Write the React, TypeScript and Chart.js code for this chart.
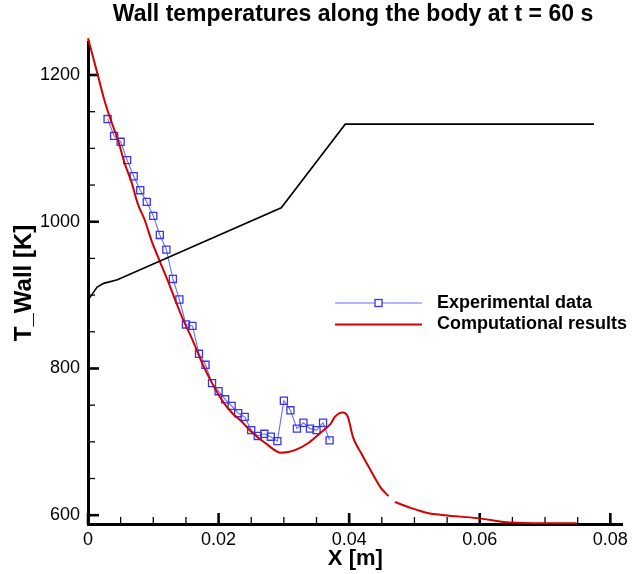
import React, { useEffect, useRef } from 'react';
import { Chart, registerables } from 'chart.js';

Chart.register(...registerables);

const FONT = "'Liberation Sans', Arial, Helvetica, sans-serif";

const chartTitle = 'Wall temperatures along the body at t = 60 s';
const xAxisTitle = 'X [m]';
const yAxisTitle = 'T_Wall [K]';
const legendLabels = ['Experimental data', 'Computational results'];

// Experimental data (blue squares)
const expX = [
  0.003, 0.004, 0.005, 0.006, 0.007, 0.008, 0.009, 0.01, 0.011, 0.012,
  0.013, 0.014, 0.015, 0.016, 0.017, 0.018, 0.019, 0.02, 0.021, 0.022,
  0.023, 0.024, 0.025, 0.026, 0.027, 0.028, 0.029, 0.03, 0.031, 0.032,
  0.033, 0.034, 0.035, 0.036, 0.037,
];
const expY = [
  1140, 1117, 1109, 1084, 1062, 1043, 1027, 1008, 982, 962,
  922, 894, 860, 858, 820, 805, 780, 769, 758, 749,
  739, 734, 716, 708, 711, 707, 701, 756, 743, 718,
  726, 718, 716, 726, 702,
];

// Computational results (red line); null marks the gap in the curve
const compX = [
  0, 0.0015, 0.0026, 0.0036, 0.0046, 0.0056, 0.0067, 0.0076, 0.0087, 0.0097,
  0.0109, 0.0122, 0.0132, 0.0144, 0.016, 0.0175, 0.019, 0.0205, 0.022, 0.0236,
  0.0251, 0.0272, 0.0296, 0.0318, 0.0337, 0.0357, 0.0372, 0.0378, 0.039, 0.0398,
  0.0406, 0.0418, 0.0433, 0.0448, 0.046, 0.0465, 0.047, 0.0494, 0.052, 0.0546,
  0.0596, 0.0646, 0.0698, 0.0748,
];
const compY = [
  1250, 1200, 1163, 1136, 1111, 1080, 1053, 1025, 1002, 975,
  948, 920, 897, 870, 839, 807, 780, 757, 740, 727,
  713, 698, 685, 689, 698, 713, 725, 734, 740, 734,
  706, 685, 661, 638, 626, null, 618, 610, 603, 600,
  596, 590, 589, 589,
];

// Body wall contour (black line)
const wallX = [0, 0.0003, 0.0007, 0.0014, 0.0024, 0.0045, 0.0296, 0.0394, 0.0775];
const wallY = [893, 897, 902, 911, 916, 921, 1019, 1133, 1133];

// Axis ticks
const xMajorTicks = [0, 0.02, 0.04, 0.06, 0.08];
const xMinorTicks = [0.005, 0.01, 0.015, 0.025, 0.03, 0.035, 0.045, 0.05, 0.055, 0.065, 0.07, 0.075];
const yMajorTicks = [600, 800, 1000, 1200];
const yMinorTicks = [650, 700, 750, 850, 900, 950, 1050, 1100, 1150];

const BLUE_LINE = '#6a6aff';
const BLUE_MARK = '#3636f0';
const RED = '#d20000';

const decorPlugin = {
  id: 'decor',
  beforeDatasetsDraw(chart: any) {
    const { ctx, chartArea, scales } = chart;
    const xs = scales.x;
    const ys = scales.y;
    ctx.save();
    ctx.strokeStyle = '#000';
    const seg = (x1: number, y1: number, x2: number, y2: number, w: number) => {
      ctx.lineWidth = w;
      ctx.beginPath();
      ctx.moveTo(x1, y1);
      ctx.lineTo(x2, y2);
      ctx.stroke();
    };
    xMajorTicks.forEach((v) => {
      const p = xs.getPixelForValue(v);
      seg(p, chartArea.bottom, p, chartArea.bottom - 11, 2.6);
    });
    xMinorTicks.forEach((v) => {
      const p = xs.getPixelForValue(v);
      seg(p, chartArea.bottom, p, chartArea.bottom - 7, 1.3);
    });
    yMajorTicks.forEach((v) => {
      const p = ys.getPixelForValue(v);
      seg(chartArea.left, p, chartArea.left + 11, p, 2.6);
    });
    yMinorTicks.forEach((v) => {
      const p = ys.getPixelForValue(v);
      seg(chartArea.left, p, chartArea.left + 7, p, 1.3);
    });
    ctx.restore();
  },
  afterDraw(chart: any) {
    const { ctx } = chart;
    ctx.save();
    // Title
    ctx.fillStyle = '#000';
    ctx.font = `bold 23px ${FONT}`;
    ctx.textAlign = 'center';
    ctx.textBaseline = 'alphabetic';
    ctx.fillText(chartTitle, 353, 21);

    // Legend
    const lx1 = 335;
    const lx2 = 422;
    const y1 = 303;
    const y2 = 324.5;
    ctx.strokeStyle = BLUE_LINE;
    ctx.lineWidth = 1.2;
    ctx.beginPath();
    ctx.moveTo(lx1, y1);
    ctx.lineTo(lx2, y1);
    ctx.stroke();
    ctx.fillStyle = '#fff';
    ctx.fillRect(375, y1 - 3.5, 7, 7);
    ctx.strokeStyle = BLUE_MARK;
    ctx.lineWidth = 1.3;
    ctx.strokeRect(375, y1 - 3.5, 7, 7);
    ctx.strokeStyle = RED;
    ctx.lineWidth = 2;
    ctx.beginPath();
    ctx.moveTo(lx1, y2);
    ctx.lineTo(lx2, y2);
    ctx.stroke();

    ctx.fillStyle = '#000';
    ctx.font = `bold 18px ${FONT}`;
    ctx.textAlign = 'left';
    ctx.textBaseline = 'middle';
    ctx.fillText(legendLabels[0], 437, y1);
    ctx.fillText(legendLabels[1], 437, y2);
    ctx.restore();
  },
};

export default function App() {
  const canvasRef = useRef<HTMLCanvasElement | null>(null);

  useEffect(() => {
    document.body.style.margin = '0';
    document.body.style.overflow = 'hidden';
    const canvas = canvasRef.current;
    if (!canvas) return;

    const chart = new Chart(canvas, {
      type: 'line',
      data: {
        datasets: [
          {
            label: 'Wall contour',
            data: wallX.map((x, i) => ({ x, y: wallY[i] })),
            borderColor: '#000',
            borderWidth: 1.6,
            pointRadius: 0,
            tension: 0,
            fill: false,
          },
          {
            label: legendLabels[1],
            data: compX.map((x, i) => ({ x, y: compY[i] })),
            borderColor: RED,
            borderWidth: 2,
            pointRadius: 0,
            cubicInterpolationMode: 'monotone',
            spanGaps: false,
            clip: false,
            fill: false,
          },
          {
            label: legendLabels[0],
            data: expX.map((x, i) => ({ x, y: expY[i] })),
            borderColor: BLUE_LINE,
            borderWidth: 1.1,
            pointStyle: 'rect',
            pointRadius: 5,
            pointBorderColor: BLUE_MARK,
            pointBorderWidth: 1.3,
            pointBackgroundColor: 'rgba(255,255,255,0)',
            tension: 0,
            fill: false,
          },
        ],
      } as any,
      options: {
        responsive: false,
        animation: false,
        devicePixelRatio: 1,
        layout: { padding: { top: 42, right: 6, left: 0, bottom: 0 } },
        plugins: {
          legend: { display: false },
          title: { display: false },
          tooltip: { enabled: false },
        },
        scales: {
          x: {
            type: 'linear',
            min: 0,
            max: 0.0819,
            afterFit: (s: any) => {
              s.height = 50;
            },
            border: { display: true, color: '#000', width: 3 },
            grid: { display: true, drawOnChartArea: false, drawTicks: false },
            ticks: {
              stepSize: 0.02,
              includeBounds: false,
              autoSkip: false,
              maxRotation: 0,
              padding: 5,
              color: '#000',
              font: { family: FONT, size: 18 },
              callback: (v: any) => (Math.abs(v) < 1e-9 ? '0' : Number(v).toFixed(2)),
            },
            title: {
              display: true,
              text: xAxisTitle,
              color: '#000',
              font: { family: FONT, size: 22, weight: 'bold' },
              padding: { top: 0, bottom: 2 },
            },
          },
          y: {
            type: 'linear',
            min: 588,
            max: 1245,
            afterFit: (s: any) => {
              s.width = 88;
            },
            border: { display: true, color: '#000', width: 3 },
            grid: { display: true, drawOnChartArea: false, drawTicks: false },
            ticks: {
              stepSize: 200,
              includeBounds: false,
              autoSkip: false,
              padding: 8,
              color: '#000',
              font: { family: FONT, size: 18 },
              callback: (v: any) => String(Math.round(Number(v))),
            },
            title: {
              display: true,
              text: yAxisTitle,
              color: '#000',
              font: { family: FONT, size: 24, weight: 'bold' },
              padding: { top: 10, bottom: 0 },
            },
          },
        },
      } as any,
      plugins: [decorPlugin],
    });

    return () => {
      chart.destroy();
    };
  }, []);

  return (
    <div style={{ width: 633, height: 574, background: '#fff' }}>
      <canvas ref={canvasRef} width={633} height={574} style={{ display: 'block' }} />
    </div>
  );
}
